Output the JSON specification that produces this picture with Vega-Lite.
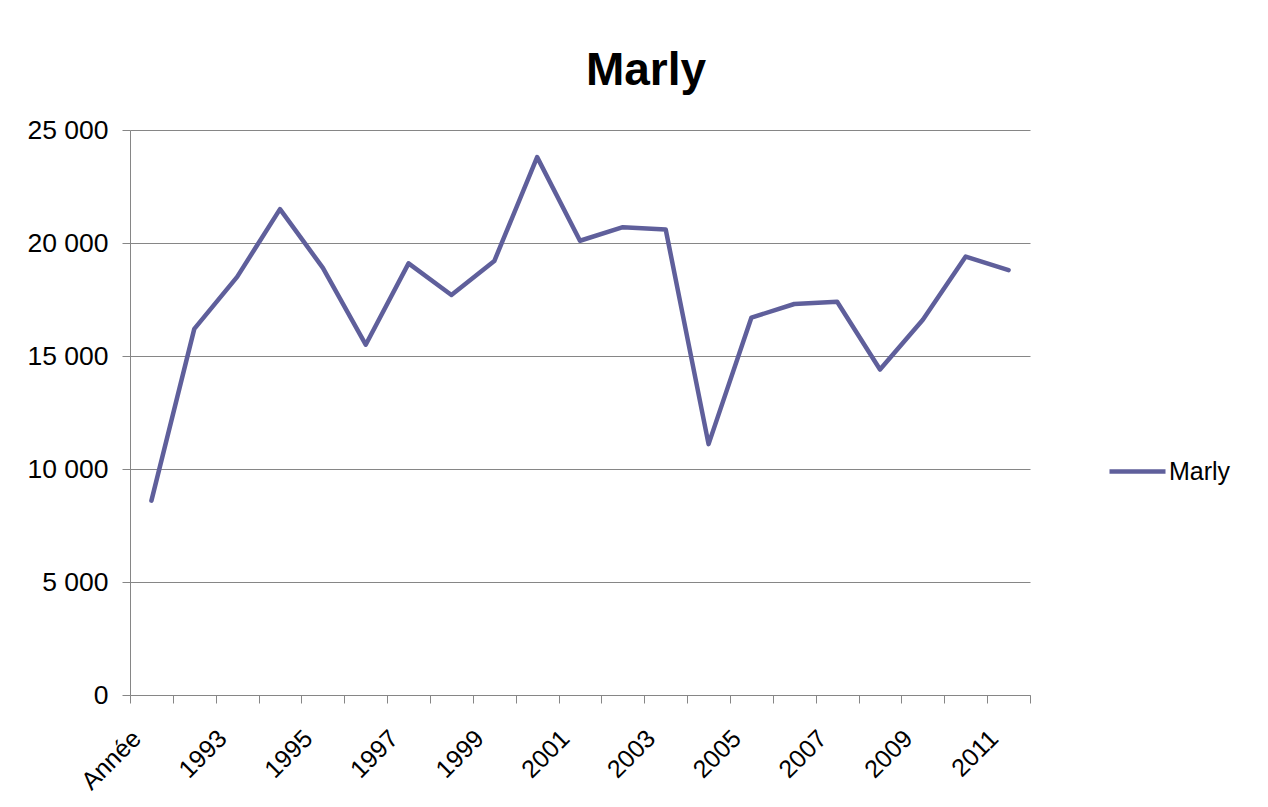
{
  "$schema": "https://vega.github.io/schema/vega-lite/v6.json",
  "width": 900,
  "height": 565,
  "autosize": {"type": "none"},
  "padding": {"left": 130, "top": 130, "right": 238, "bottom": 112},
  "background": "white",
  "title": {
    "text": "Marly",
    "font": "Liberation Sans",
    "fontSize": 46,
    "fontWeight": "bold",
    "color": "black",
    "anchor": "middle",
    "frame": "group",
    "dx": 66,
    "baseline": "alphabetic",
    "offset": -14
  },
  "data": {
    "values": [
      {"annee": "Année", "valeur": 8600, "serie": "Marly"},
      {"annee": "1992", "valeur": 16200, "serie": "Marly"},
      {"annee": "1993", "valeur": 18500, "serie": "Marly"},
      {"annee": "1994", "valeur": 21500, "serie": "Marly"},
      {"annee": "1995", "valeur": 18900, "serie": "Marly"},
      {"annee": "1996", "valeur": 15500, "serie": "Marly"},
      {"annee": "1997", "valeur": 19100, "serie": "Marly"},
      {"annee": "1998", "valeur": 17700, "serie": "Marly"},
      {"annee": "1999", "valeur": 19200, "serie": "Marly"},
      {"annee": "2000", "valeur": 23800, "serie": "Marly"},
      {"annee": "2001", "valeur": 20100, "serie": "Marly"},
      {"annee": "2002", "valeur": 20700, "serie": "Marly"},
      {"annee": "2003", "valeur": 20600, "serie": "Marly"},
      {"annee": "2004", "valeur": 11100, "serie": "Marly"},
      {"annee": "2005", "valeur": 16700, "serie": "Marly"},
      {"annee": "2006", "valeur": 17300, "serie": "Marly"},
      {"annee": "2007", "valeur": 17400, "serie": "Marly"},
      {"annee": "2008", "valeur": 14400, "serie": "Marly"},
      {"annee": "2009", "valeur": 16600, "serie": "Marly"},
      {"annee": "2010", "valeur": 19400, "serie": "Marly"},
      {"annee": "2011", "valeur": 18800, "serie": "Marly"}
    ]
  },
  "mark": {"type": "line", "strokeWidth": 4.5, "strokeCap": "round", "strokeJoin": "round"},
  "encoding": {
    "x": {
      "field": "annee",
      "type": "nominal",
      "sort": null,
      "bandPosition": 0.5,
      "scale": {"type": "band", "paddingInner": 0, "paddingOuter": 0},
      "axis": {
        "title": null,
        "tickBand": "extent",
        "tickExtra": true,
        "tickSize": 8,
        "tickColor": "#868686",
        "domainColor": "#868686",
        "grid": false,
        "labelAngle": -45,
        "labelAlign": "right",
        "labelBaseline": "middle",
        "labelPadding": 31,
        "labelOffset": -15,
        "labelFont": "Liberation Sans",
        "labelFontSize": 25,
        "labelColor": "black",
        "labelExpr": "datum.value == 'Année' || toNumber(datum.value) % 2 == 1 ? datum.value : ''"
      }
    },
    "y": {
      "field": "valeur",
      "type": "quantitative",
      "scale": {"domain": [0, 25000], "nice": false},
      "axis": {
        "title": null,
        "values": [0, 5000, 10000, 15000, 20000, 25000],
        "tickSize": 8,
        "tickColor": "#868686",
        "domainColor": "#868686",
        "gridColor": "#868686",
        "gridWidth": 1,
        "labelPadding": 14,
        "labelFont": "Liberation Sans",
        "labelFontSize": 26.5,
        "labelColor": "black",
        "labelExpr": "replace(format(datum.value, ','), ',', ' ')"
      }
    },
    "color": {
      "field": "serie",
      "type": "nominal",
      "scale": {"range": ["#5F5F9B"]},
      "legend": {
        "title": null,
        "orient": "none",
        "legendX": 977,
        "legendY": 311,
        "padding": 0,
        "symbolType": "stroke",
        "symbolSize": 3136,
        "symbolStrokeWidth": 4.5,
        "labelFont": "Liberation Sans",
        "labelFontSize": 25,
        "labelColor": "black",
        "labelOffset": 1
      }
    }
  },
  "config": {"view": {"stroke": null}}
}
